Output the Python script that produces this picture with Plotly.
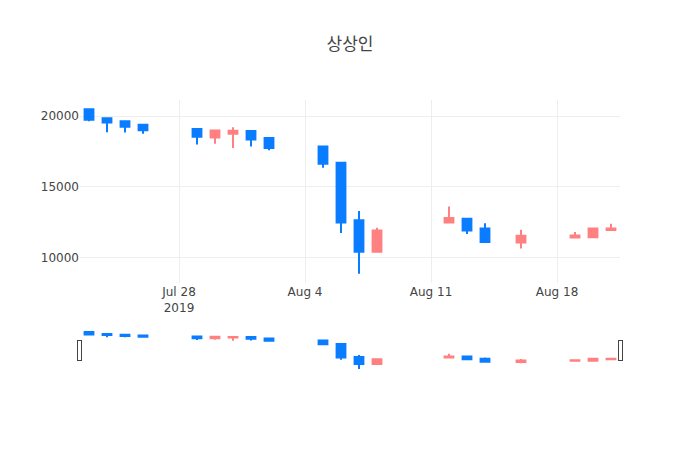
import pandas as pd
import plotly.graph_objects as go

# daily prices (KRW)
dates = ["2019-07-23", "2019-07-24", "2019-07-25", "2019-07-26",
         "2019-07-29", "2019-07-30", "2019-07-31", "2019-08-01", "2019-08-02",
         "2019-08-05", "2019-08-06", "2019-08-07", "2019-08-08",
         "2019-08-12", "2019-08-13", "2019-08-14", "2019-08-16",
         "2019-08-19", "2019-08-20", "2019-08-21"]
open_ = [20500, 19850, 19650, 19400, 19100, 18500, 18760, 18950, 18460,
         17850, 16700, 12620, 10400, 12470, 12740, 12050, 11050, 11400, 11430, 11930]
high = [20500, 19850, 19650, 19400, 19100, 18980, 19220, 18950, 18460,
        17850, 16700, 13280, 12100, 13600, 12740, 12420, 11960, 11800, 12050, 12380]
low = [19650, 18860, 18850, 18750, 18000, 18050, 17750, 17850, 17590,
       16340, 11730, 8830, 10400, 12470, 11660, 11080, 10630, 11400, 11430, 11930]
close = [19750, 19550, 19250, 19000, 18550, 18980, 18970, 18350, 17750,
         16630, 12470, 10390, 11900, 12790, 11900, 11080, 11530, 11550, 12050, 12050]

df = pd.DataFrame({"date": pd.to_datetime(dates), "open": open_,
                   "high": high, "low": low, "close": close})

fig = go.Figure(go.Candlestick(
    x=df["date"], open=df["open"], high=df["high"], low=df["low"], close=df["close"],
    increasing=dict(line=dict(color="#FF8080"), fillcolor="#FF8080"),
    decreasing=dict(line=dict(color="#0A7CFF"), fillcolor="#0A7CFF"),
))

fig.update_layout(
    template="none",
    title=dict(text="상상인", x=0.5),
    font=dict(family="DejaVu Sans, Noto Sans CJK KR", color="#444"),
    width=700, height=450,
    showlegend=False,
)
fig.update_yaxes(tickformat="d", zeroline=False)
fig.update_xaxes(zeroline=False)

# page margin off so the 700x450 figure sits at the window's corner
fig.write_html("out.html", config={"displayModeBar": False},
               post_script="document.body.style.margin='0';")
